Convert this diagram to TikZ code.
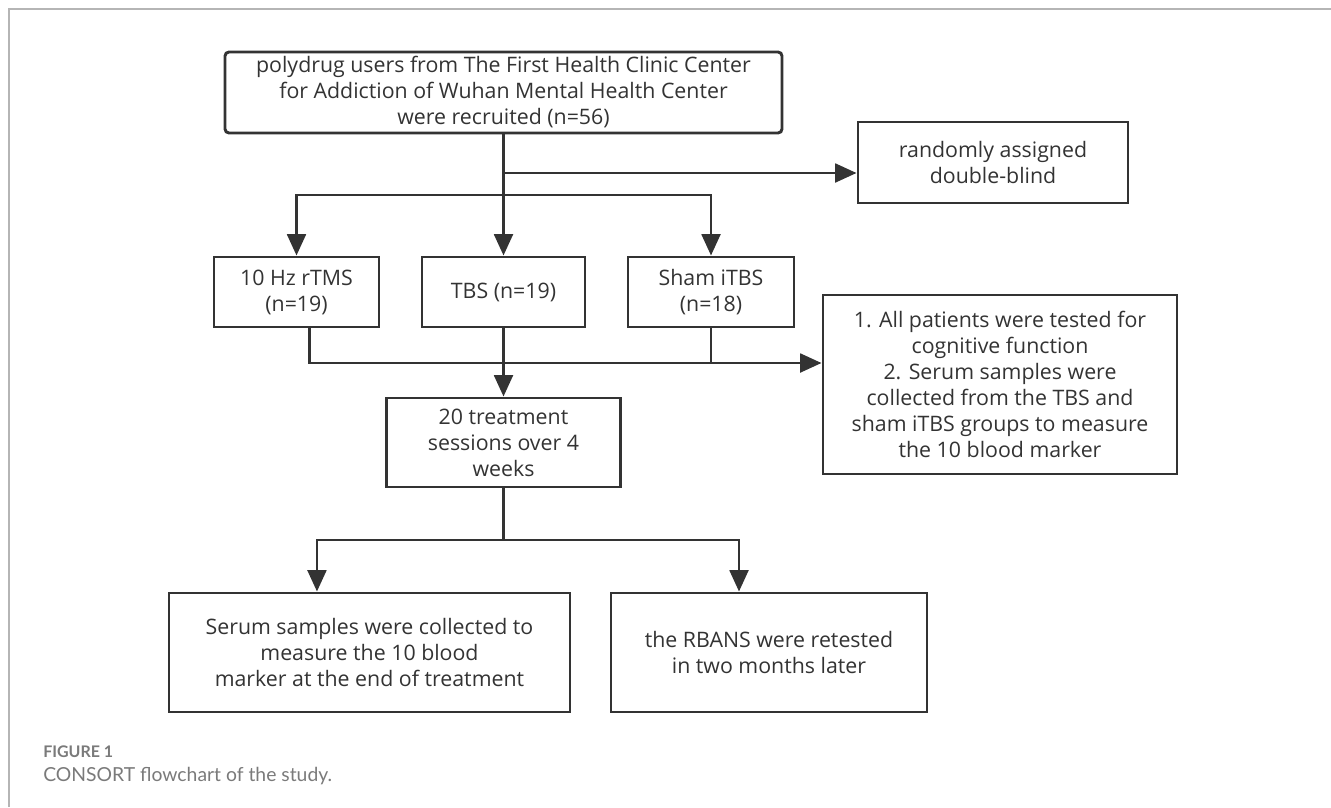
\documentclass[tikz,border=0pt]{standalone}
\usepackage{fontspec}
\setmainfont{Open Sans}
\newfontfamily\capfont{Lato}
\usetikzlibrary{arrows.meta,calc}
\definecolor{linec}{HTML}{333333}
\definecolor{framec}{HTML}{B5B5B5}
\definecolor{capc}{HTML}{7A7A7A}
\tikzset{
  box/.style={draw=linec, line width=2.2pt, align=center, inner sep=0pt, text=linec,
    font=\fontsize{16}{19.5}\selectfont},
  conn/.style={draw=linec, line width=2.2pt},
  arr/.style={conn, -{Triangle[length=16pt,width=14pt]}},
}
\begin{document}
\begin{tikzpicture}[x=0.75pt,y=-0.75pt]
\useasboundingbox (0,0) rectangle (1331,807);
% frame
\draw[framec, line width=1.6pt] (9,807) -- (9,9) -- (1331,9);
% boxes
\node[box, rounded corners=3pt, minimum width=417.75pt, minimum height=60.75pt] (top) at (503.5,92.5)
  {polydrug users from The First Health Clinic Center\\for Addiction of Wuhan Mental Health Center\\were recruited (n=56)};
\node[box, minimum width=202.5pt, minimum height=60.75pt] (rand) at (993,162.5)
  {randomly assigned\\double-blind};
\node[box, minimum width=123.75pt, minimum height=52.5pt] (hz) at (296.5,292)
  {10 Hz rTMS\\(n=19)};
\node[box, minimum width=122.25pt, minimum height=52.5pt] (tbs) at (503.5,292)
  {TBS (n=19)};
\node[box, minimum width=124.5pt, minimum height=52.5pt] (sham) at (711,292)
  {Sham iTBS\\(n=18)};
\node[box, minimum width=265.5pt, minimum height=134.25pt] (all) at (1000,384.5)
  {1. All patients were tested for\\cognitive function\\2. Serum samples were\\collected from the TBS and\\sham iTBS groups to measure\\the 10 blood marker};
\node[box, minimum width=175.5pt, minimum height=66.75pt] (treat) at (503.5,442.5)
  {20 treatment\\sessions over 4\\weeks};
\node[box, minimum width=300.75pt, minimum height=89.25pt] (serum) at (369.5,652.5)
  {Serum samples were collected to\\measure the 10 blood\\marker at the end of treatment};
\node[box, minimum width=237pt, minimum height=89.25pt] (rbans) at (769,652.5)
  {the RBANS were retested\\in two months later};
% connectors
\coordinate (b1) at (503.5,173);
\coordinate (s1) at (503.5,195);
\coordinate (m) at (503.5,363);
\coordinate (s2) at (503.5,540);
\draw[arr] (top.south) -- (tbs.north);
\draw[arr] (b1) -- (b1 -| rand.west);
\draw[arr] (s1) -| (hz.north);
\draw[arr] (s1) -| (sham.north);
\draw[conn] ([xshift=10pt]hz.south) |- (m);
\draw[conn] (tbs.south) -- (m);
\draw[conn] (sham.south) |- (m);
\draw[arr] (sham.south |- m) -- (m -| all.west);
\draw[arr] (m) -- (treat.north);
\draw[conn] (treat.south) -- (s2);
\draw[arr] (s2) -| ([xshift=-39.4pt]serum.north);
\draw[arr] (s2) -| ([xshift=-22.5pt]rbans.north);
% caption
\node[anchor=base west, inner sep=0pt, text=capc, font=\capfont\bfseries\fontsize{12}{14}\selectfont] (fig) at (43,757) {FIGURE 1};
\node[anchor=base west, inner sep=0pt, text=capc, font=\capfont\fontsize{14.5}{17}\selectfont] (cap) at (43,781) {CONSORT flowchart of the study.};
\end{tikzpicture}
\end{document}
